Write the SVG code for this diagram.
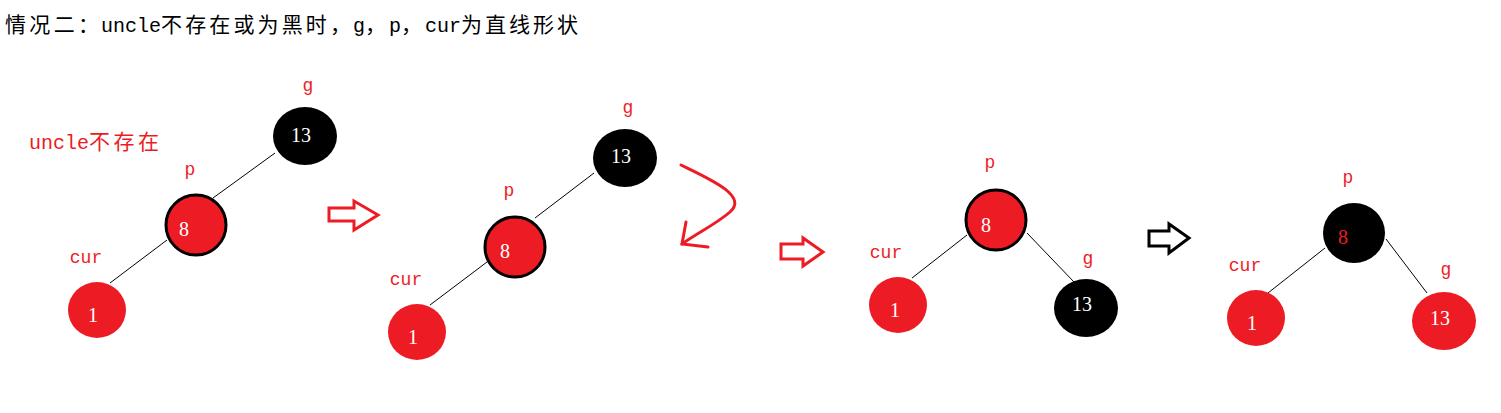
<svg xmlns="http://www.w3.org/2000/svg" width="1501" height="413" viewBox="0 0 1501 413">
<style>
.lbl{font-family:"Liberation Mono","Noto Sans CJK SC",monospace;font-size:18px;fill:#ED1C24}
.cjk{font-family:"Noto Sans CJK SC",sans-serif}
.num{font-family:"Liberation Serif",serif;font-size:20px;fill:#fff}
.red{fill:#ED1C24}
.blk{fill:#000}
.ring{stroke:#000;stroke-width:3}
.edge{stroke:#000;stroke-width:1;fill:none}
.bigarrow{fill:none;stroke-width:3;stroke-linejoin:miter}
.title{font-family:"Liberation Mono","Noto Sans CJK SC",monospace;font-size:20px;fill:#000}
.tc{font-family:"Noto Sans CJK SC",sans-serif;font-size:21px}
</style>
<rect width="1501" height="413" fill="#fff"/>
<text class="title" y="32"><tspan class="tc" x="5" textLength="94" lengthAdjust="spacing">情况二：</tspan><tspan x="101">uncle</tspan><tspan class="tc" x="161" textLength="190" lengthAdjust="spacing">不存在或为黑时，</tspan><tspan x="353">g</tspan><tspan class="tc" x="365">，</tspan><tspan x="389">p</tspan><tspan class="tc" x="401">，</tspan><tspan x="425">cur</tspan><tspan class="tc" x="461" textLength="117" lengthAdjust="spacing">为直线形状</tspan></text>

<g id="connectors">
<line class="edge" x1="275" y1="153" x2="213" y2="198"/>
<line class="edge" x1="167" y1="240" x2="110" y2="283"/>
<line class="edge" x1="594" y1="173" x2="535" y2="218"/>
<line class="edge" x1="487" y1="262" x2="430" y2="305"/>
<line class="edge" x1="967" y1="235" x2="912" y2="278"/>
<line class="edge" x1="1027" y1="233" x2="1074" y2="282"/>
<line class="edge" x1="1325" y1="248" x2="1268" y2="293"/>
<line class="edge" x1="1386" y1="239" x2="1427" y2="293"/>
<path class="bigarrow" stroke="#ED1C24" d="M329,208 H354 V201 L378,215 L354,230 V221 H329 Z"/>
<path class="bigarrow" stroke="#ED1C24" d="M781,244 H803 V238 L823,252 L803,266 V259 H781 Z"/>
<path class="bigarrow" stroke="#000" d="M1149,231 H1169 V224 L1189,238 L1169,253 V246 H1149 Z"/>
<path fill="none" stroke="#ED1C24" stroke-width="3" stroke-linecap="round" d="M681,165 C712,180 748,196 730,212 C716,224 696,234 682,244"/>
<path fill="none" stroke="#ED1C24" stroke-width="3" stroke-linecap="round" stroke-linejoin="miter" d="M686,222 L682,244 L708,247"/>
</g>

<text class="lbl" x="29" y="149" style="font-size:20px"><tspan>uncle</tspan><tspan class="cjk" style="font-size:21px" x="89" textLength="70" lengthAdjust="spacing">不存在</tspan></text>

<g id="p1-g">
<ellipse class="blk" cx="305" cy="136" rx="32" ry="29"/>
<text class="num" x="301" y="142" text-anchor="middle">13</text>
<text class="lbl" x="308" y="91" text-anchor="middle">g</text>
</g>
<g id="p1-p">
<circle class="red ring" cx="196" cy="225" r="30"/>
<text class="num" x="184" y="236" text-anchor="middle">8</text>
<text class="lbl" x="190" y="175" text-anchor="middle">p</text>
</g>
<g id="p1-cur">
<ellipse class="red" cx="97" cy="310" rx="29" ry="28"/>
<text class="num" x="93" y="322" text-anchor="middle">1</text>
<text class="lbl" x="86" y="263" text-anchor="middle">cur</text>
</g>

<g id="p2-g">
<ellipse class="blk" cx="625" cy="158" rx="32" ry="29"/>
<text class="num" x="621" y="163" text-anchor="middle">13</text>
<text class="lbl" x="628" y="113" text-anchor="middle">g</text>
</g>
<g id="p2-p">
<circle class="red ring" cx="515" cy="247" r="30"/>
<text class="num" x="505" y="258" text-anchor="middle">8</text>
<text class="lbl" x="509" y="196" text-anchor="middle">p</text>
</g>
<g id="p2-cur">
<ellipse class="red" cx="417" cy="332" rx="29" ry="28"/>
<text class="num" x="413" y="344" text-anchor="middle">1</text>
<text class="lbl" x="406" y="285" text-anchor="middle">cur</text>
</g>

<g id="p3-p">
<circle class="red ring" cx="996" cy="220" r="30"/>
<text class="num" x="986" y="232" text-anchor="middle">8</text>
<text class="lbl" x="990" y="168" text-anchor="middle">p</text>
</g>
<g id="p3-cur">
<ellipse class="red" cx="898" cy="305" rx="29" ry="28"/>
<text class="num" x="895" y="317" text-anchor="middle">1</text>
<text class="lbl" x="886" y="258" text-anchor="middle">cur</text>
</g>
<g id="p3-g">
<ellipse class="blk" cx="1086" cy="308" rx="32" ry="29"/>
<text class="num" x="1082" y="311" text-anchor="middle">13</text>
<text class="lbl" x="1088" y="264" text-anchor="middle">g</text>
</g>

<g id="p4-p">
<ellipse class="blk" cx="1354" cy="233" rx="31" ry="30"/>
<text class="num" x="1343" y="244" text-anchor="middle" style="fill:#ED1C24">8</text>
<text class="lbl" x="1348" y="183" text-anchor="middle">p</text>
</g>
<g id="p4-cur">
<ellipse class="red" cx="1256" cy="318" rx="29" ry="28"/>
<text class="num" x="1252" y="330" text-anchor="middle">1</text>
<text class="lbl" x="1245" y="271" text-anchor="middle">cur</text>
</g>
<g id="p4-g">
<ellipse class="red" cx="1444" cy="321" rx="32" ry="29"/>
<text class="num" x="1440" y="325" text-anchor="middle">13</text>
<text class="lbl" x="1446" y="275" text-anchor="middle">g</text>
</g>
</svg>
